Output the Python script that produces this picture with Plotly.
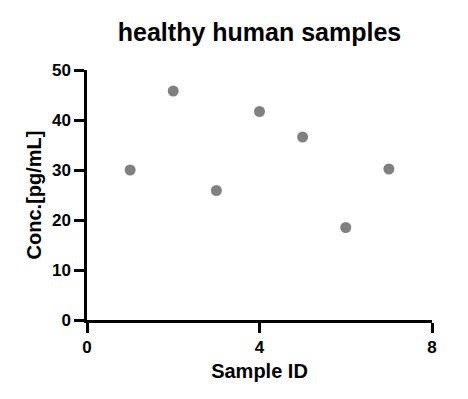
import plotly.graph_objects as go

sample_id = [1, 2, 3, 4, 5, 6, 7]
conc = [30.0, 45.8, 25.9, 41.7, 36.6, 18.5, 30.2]

x_ticks = [0, 4, 8]
y_ticks = [0, 10, 20, 30, 40, 50]

fig = go.Figure()
fig.add_trace(go.Scatter(
    x=sample_id, y=conc, mode="markers",
    marker=dict(color="#808080", size=11, line=dict(width=0)),
    cliponaxis=False, showlegend=False,
))

font_family = "Arial, Liberation Sans, sans-serif"
fig.update_layout(
    width=468, height=399,
    margin=dict(l=87, r=36, t=70, b=79),
    paper_bgcolor="white", plot_bgcolor="white",
    font=dict(family=font_family, color="black"),
    title=dict(text="<b>healthy human samples</b>", x=0.5, xanchor="center",
               xref="paper", y=1 - 41 / 399, yanchor="bottom",
               font=dict(size=25, family=font_family, color="black")),
)
fig.update_xaxes(
    range=[0, 8], tickvals=x_ticks, ticktext=[f"<b>{v}</b>" for v in x_ticks],
    showgrid=False, zeroline=False, showline=True, linecolor="black", linewidth=2.5,
    ticks="outside", ticklen=10, tickwidth=2.5, tickcolor="black",
    tickfont=dict(size=17, family=font_family, color="black"),
    title=dict(text="<b>Sample ID</b>", font=dict(size=20, family=font_family, color="black"), standoff=8),
)
fig.update_yaxes(
    range=[0, 50], tickvals=y_ticks, ticktext=[f"<b>{v}</b>" for v in y_ticks],
    showgrid=False, zeroline=False, showline=True, linecolor="black", linewidth=2.5,
    ticks="outside", ticklen=10, tickwidth=2.5, tickcolor="black",
    tickfont=dict(size=17, family=font_family, color="black"),
    title=dict(text="<b>Conc.[pg/mL]</b>", font=dict(size=20, family=font_family, color="black"), standoff=5),
)

fig.write_html("out.html")
